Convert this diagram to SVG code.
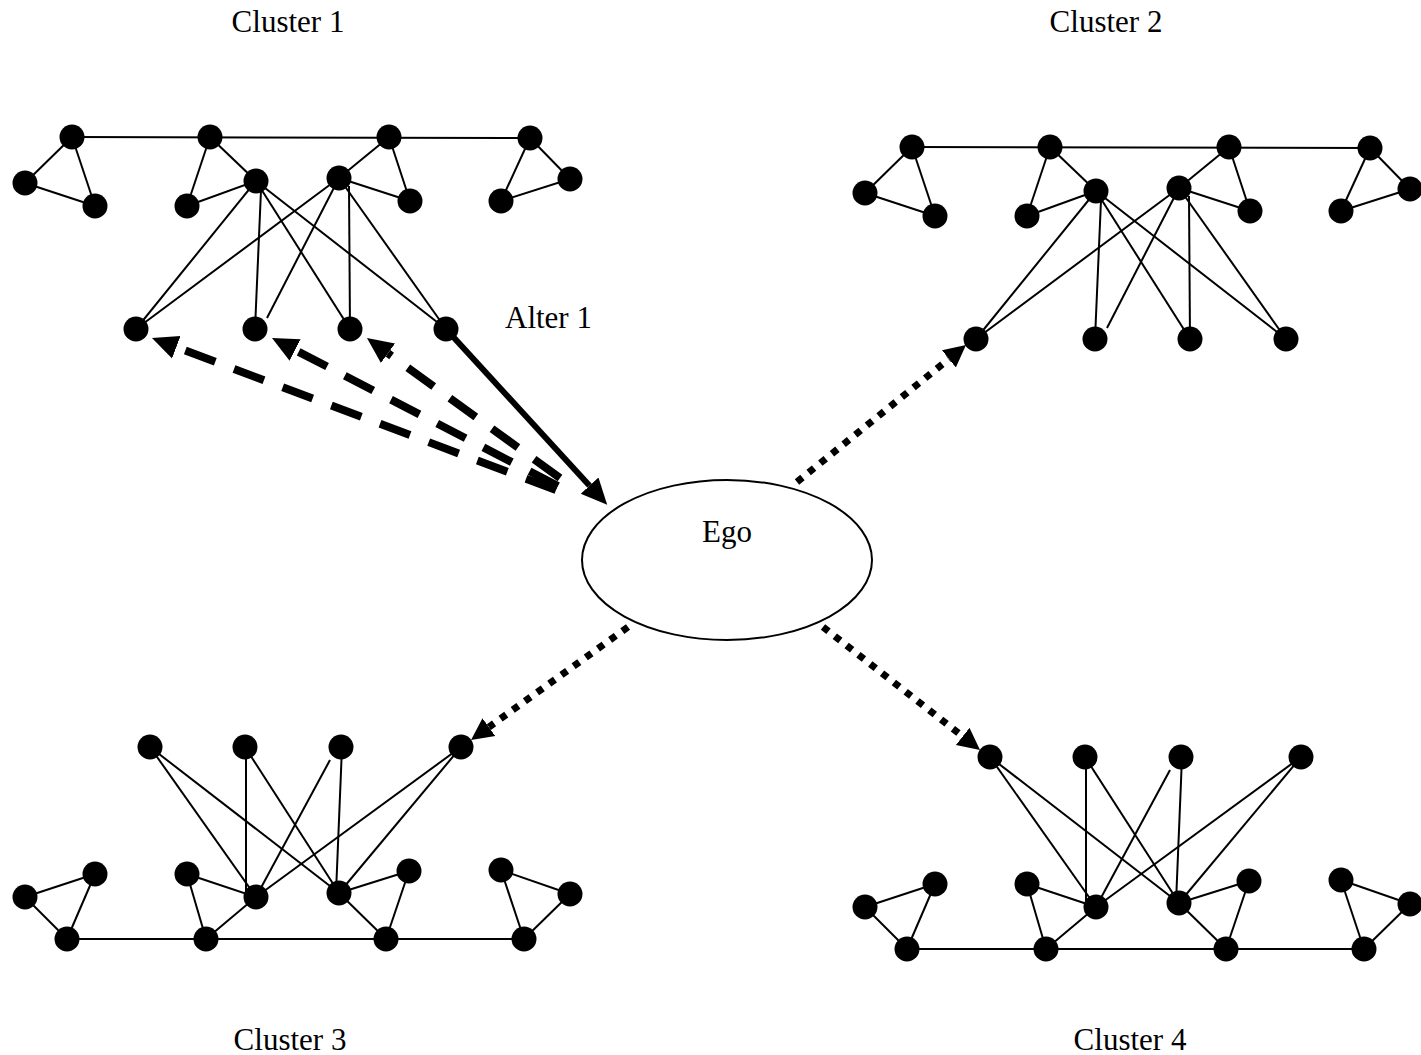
<svg xmlns="http://www.w3.org/2000/svg" xmlns:xlink="http://www.w3.org/1999/xlink" width="1421" height="1055" viewBox="0 0 1421 1055">
<style>
  .lbl { font-family: "Liberation Serif", "Times New Roman", serif; font-size: 31px; fill: #000; }
  .e { stroke: #000; stroke-width: 2; fill: none; }
  .n { fill: #000; }
  .solid { stroke: #000; stroke-width: 6; fill: none; }
  .dash { stroke: #000; stroke-width: 8; stroke-dasharray: 32 20; fill: none; }
  .dot { stroke: #000; stroke-width: 7; stroke-dasharray: 7 8; fill: none; }
</style>
<defs>
  <marker id="headBig" markerUnits="userSpaceOnUse" viewBox="0 -14 30 28" markerWidth="30" markerHeight="28" refX="0" refY="0" orient="auto">
    <path d="M0,-12 L26,0 L0,12 z" fill="#000"/>
  </marker>
  <marker id="headSmall" markerUnits="userSpaceOnUse" viewBox="0 -13 26 26" markerWidth="26" markerHeight="26" refX="0" refY="0" orient="auto">
    <path d="M0,-11 L22,0 L0,11 z" fill="#000"/>
  </marker>
  <g id="edges1">
    <line x1="72" y1="137" x2="530" y2="138"/>
    <line x1="72" y1="137" x2="25" y2="183"/>
    <line x1="72" y1="137" x2="95" y2="206"/>
    <line x1="25" y1="183" x2="95" y2="206"/>
    <line x1="210" y1="137" x2="187" y2="206"/>
    <line x1="210" y1="137" x2="256" y2="181"/>
    <line x1="187" y1="206" x2="256" y2="181"/>
    <line x1="389" y1="137" x2="339" y2="178"/>
    <line x1="389" y1="137" x2="410" y2="201"/>
    <line x1="339" y1="178" x2="410" y2="201"/>
    <line x1="530" y1="138" x2="570" y2="179"/>
    <line x1="530" y1="138" x2="501" y2="201"/>
    <line x1="570" y1="179" x2="501" y2="201"/>
    <line x1="256" y1="181" x2="136" y2="329"/>
    <line x1="261" y1="190" x2="255" y2="329"/>
    <line x1="256" y1="181" x2="350" y2="329"/>
    <line x1="256" y1="181" x2="446" y2="329"/>
    <line x1="339" y1="178" x2="136" y2="329"/>
    <line x1="339" y1="178" x2="267" y2="318"/>
    <line x1="349" y1="186" x2="350" y2="329"/>
    <line x1="339" y1="178" x2="446" y2="329"/>
  </g>
  <g id="edges3">
    <line x1="67" y1="939" x2="524" y2="939"/>
    <line x1="67" y1="939" x2="25" y2="897"/>
    <line x1="67" y1="939" x2="95" y2="874"/>
    <line x1="25" y1="897" x2="95" y2="874"/>
    <line x1="206" y1="939" x2="187" y2="874"/>
    <line x1="206" y1="939" x2="256" y2="897"/>
    <line x1="187" y1="874" x2="256" y2="897"/>
    <line x1="386" y1="939" x2="339" y2="893"/>
    <line x1="386" y1="939" x2="409" y2="871"/>
    <line x1="339" y1="893" x2="409" y2="871"/>
    <line x1="524" y1="939" x2="501" y2="870"/>
    <line x1="524" y1="939" x2="570" y2="894"/>
    <line x1="501" y1="870" x2="570" y2="894"/>
    <line x1="150" y1="747" x2="256" y2="897"/>
    <line x1="150" y1="747" x2="339" y2="893"/>
    <line x1="246" y1="747" x2="246" y2="892"/>
    <line x1="245" y1="747" x2="339" y2="893"/>
    <line x1="330" y1="760" x2="256" y2="897"/>
    <line x1="342" y1="747" x2="336" y2="893"/>
    <line x1="461" y1="747" x2="256" y2="897"/>
    <line x1="461" y1="747" x2="339" y2="893"/>
  </g>
</defs>

<g id="labels">
  <text class="lbl" x="288" y="32" text-anchor="middle">Cluster 1</text>
  <text class="lbl" x="1106" y="32" text-anchor="middle">Cluster 2</text>
  <text class="lbl" x="290" y="1050" text-anchor="middle">Cluster 3</text>
  <text class="lbl" x="1130" y="1050" text-anchor="middle">Cluster 4</text>
</g>

<g id="connectors">
  <use xlink:href="#edges1" class="e"/>
  <use xlink:href="#edges1" class="e" transform="translate(840,10)"/>
  <use xlink:href="#edges3" class="e"/>
  <use xlink:href="#edges3" class="e" transform="translate(840,10)"/>
  <line class="solid" x1="446" y1="329" x2="589.6" y2="485.7" marker-end="url(#headBig)"/>
  <line class="dash" x1="556" y1="490" x2="176.3" y2="347.2" marker-end="url(#headBig)"/>
  <line class="dash" x1="558" y1="486" x2="295.1" y2="350" marker-end="url(#headBig)"/>
  <line class="dash" x1="560" y1="478" x2="388" y2="353.3" marker-end="url(#headBig)"/>
  <line class="dot" x1="797" y1="482" x2="948.9" y2="358.9" marker-end="url(#headSmall)"/>
  <line class="dot" x1="628" y1="627" x2="488.9" y2="727.1" marker-end="url(#headSmall)"/>
  <line class="dot" x1="823" y1="627" x2="962.7" y2="736.4" marker-end="url(#headSmall)"/>
</g>

<g id="ego">
  <ellipse cx="727" cy="560" rx="145" ry="80" fill="#fff" stroke="#000" stroke-width="2"/>
  <text class="lbl" x="727" y="542" text-anchor="middle">Ego</text>
</g>

<g id="cluster1">
  <g id="c1-a"><circle class="n" cx="72" cy="137" r="12.5"/></g>
  <g id="c1-b"><circle class="n" cx="210" cy="137" r="12.5"/></g>
  <g id="c1-c"><circle class="n" cx="389" cy="137" r="12.5"/></g>
  <g id="c1-d"><circle class="n" cx="530" cy="138" r="12.5"/></g>
  <g id="c1-lt1"><circle class="n" cx="25" cy="183" r="12.5"/></g>
  <g id="c1-lt2"><circle class="n" cx="95" cy="206" r="12.5"/></g>
  <g id="c1-m1"><circle class="n" cx="187" cy="206" r="12.5"/></g>
  <g id="c1-hl"><circle class="n" cx="256" cy="181" r="12.5"/></g>
  <g id="c1-hr"><circle class="n" cx="339" cy="178" r="12.5"/></g>
  <g id="c1-m2"><circle class="n" cx="410" cy="201" r="12.5"/></g>
  <g id="c1-rt1"><circle class="n" cx="570" cy="179" r="12.5"/></g>
  <g id="c1-rt2"><circle class="n" cx="501" cy="201" r="12.5"/></g>
  <g id="c1-al1"><circle class="n" cx="136" cy="329" r="12.5"/></g>
  <g id="c1-al2"><circle class="n" cx="255" cy="329" r="12.5"/></g>
  <g id="c1-al3"><circle class="n" cx="350" cy="329" r="12.5"/></g>
  <g id="c1-alter1"><circle class="n" cx="446" cy="329" r="12.5"/>
    <text class="lbl" x="505" y="328">Alter 1</text></g>
</g>

<g id="cluster2">
  <g id="c2-a"><circle class="n" cx="912" cy="147" r="12.5"/></g>
  <g id="c2-b"><circle class="n" cx="1050" cy="147" r="12.5"/></g>
  <g id="c2-c"><circle class="n" cx="1229" cy="147" r="12.5"/></g>
  <g id="c2-d"><circle class="n" cx="1370" cy="148" r="12.5"/></g>
  <g id="c2-lt1"><circle class="n" cx="865" cy="193" r="12.5"/></g>
  <g id="c2-lt2"><circle class="n" cx="935" cy="216" r="12.5"/></g>
  <g id="c2-m1"><circle class="n" cx="1027" cy="216" r="12.5"/></g>
  <g id="c2-hl"><circle class="n" cx="1096" cy="191" r="12.5"/></g>
  <g id="c2-hr"><circle class="n" cx="1179" cy="188" r="12.5"/></g>
  <g id="c2-m2"><circle class="n" cx="1250" cy="211" r="12.5"/></g>
  <g id="c2-rt1"><circle class="n" cx="1410" cy="189" r="12.5"/></g>
  <g id="c2-rt2"><circle class="n" cx="1341" cy="211" r="12.5"/></g>
  <g id="c2-al1"><circle class="n" cx="976" cy="339" r="12.5"/></g>
  <g id="c2-al2"><circle class="n" cx="1095" cy="339" r="12.5"/></g>
  <g id="c2-al3"><circle class="n" cx="1190" cy="339" r="12.5"/></g>
  <g id="c2-al4"><circle class="n" cx="1286" cy="339" r="12.5"/></g>
</g>

<g id="cluster3">
  <g id="c3-t1"><circle class="n" cx="150" cy="747" r="12.5"/></g>
  <g id="c3-t2"><circle class="n" cx="245" cy="747" r="12.5"/></g>
  <g id="c3-t3"><circle class="n" cx="341" cy="747" r="12.5"/></g>
  <g id="c3-t4"><circle class="n" cx="461" cy="747" r="12.5"/></g>
  <g id="c3-lt1"><circle class="n" cx="25" cy="897" r="12.5"/></g>
  <g id="c3-lt2"><circle class="n" cx="95" cy="874" r="12.5"/></g>
  <g id="c3-b1"><circle class="n" cx="67" cy="939" r="12.5"/></g>
  <g id="c3-m1"><circle class="n" cx="187" cy="874" r="12.5"/></g>
  <g id="c3-hl"><circle class="n" cx="256" cy="897" r="12.5"/></g>
  <g id="c3-b2"><circle class="n" cx="206" cy="939" r="12.5"/></g>
  <g id="c3-hr"><circle class="n" cx="339" cy="893" r="12.5"/></g>
  <g id="c3-m2"><circle class="n" cx="409" cy="871" r="12.5"/></g>
  <g id="c3-b3"><circle class="n" cx="386" cy="939" r="12.5"/></g>
  <g id="c3-rt1"><circle class="n" cx="501" cy="870" r="12.5"/></g>
  <g id="c3-rt2"><circle class="n" cx="570" cy="894" r="12.5"/></g>
  <g id="c3-b4"><circle class="n" cx="524" cy="939" r="12.5"/></g>
</g>

<g id="cluster4">
  <g id="c4-t1"><circle class="n" cx="990" cy="757" r="12.5"/></g>
  <g id="c4-t2"><circle class="n" cx="1085" cy="757" r="12.5"/></g>
  <g id="c4-t3"><circle class="n" cx="1181" cy="757" r="12.5"/></g>
  <g id="c4-t4"><circle class="n" cx="1301" cy="757" r="12.5"/></g>
  <g id="c4-lt1"><circle class="n" cx="865" cy="907" r="12.5"/></g>
  <g id="c4-lt2"><circle class="n" cx="935" cy="884" r="12.5"/></g>
  <g id="c4-b1"><circle class="n" cx="907" cy="949" r="12.5"/></g>
  <g id="c4-m1"><circle class="n" cx="1027" cy="884" r="12.5"/></g>
  <g id="c4-hl"><circle class="n" cx="1096" cy="907" r="12.5"/></g>
  <g id="c4-b2"><circle class="n" cx="1046" cy="949" r="12.5"/></g>
  <g id="c4-hr"><circle class="n" cx="1179" cy="903" r="12.5"/></g>
  <g id="c4-m2"><circle class="n" cx="1249" cy="881" r="12.5"/></g>
  <g id="c4-b3"><circle class="n" cx="1226" cy="949" r="12.5"/></g>
  <g id="c4-rt1"><circle class="n" cx="1341" cy="880" r="12.5"/></g>
  <g id="c4-rt2"><circle class="n" cx="1410" cy="904" r="12.5"/></g>
  <g id="c4-b4"><circle class="n" cx="1364" cy="949" r="12.5"/></g>
</g>
</svg>
